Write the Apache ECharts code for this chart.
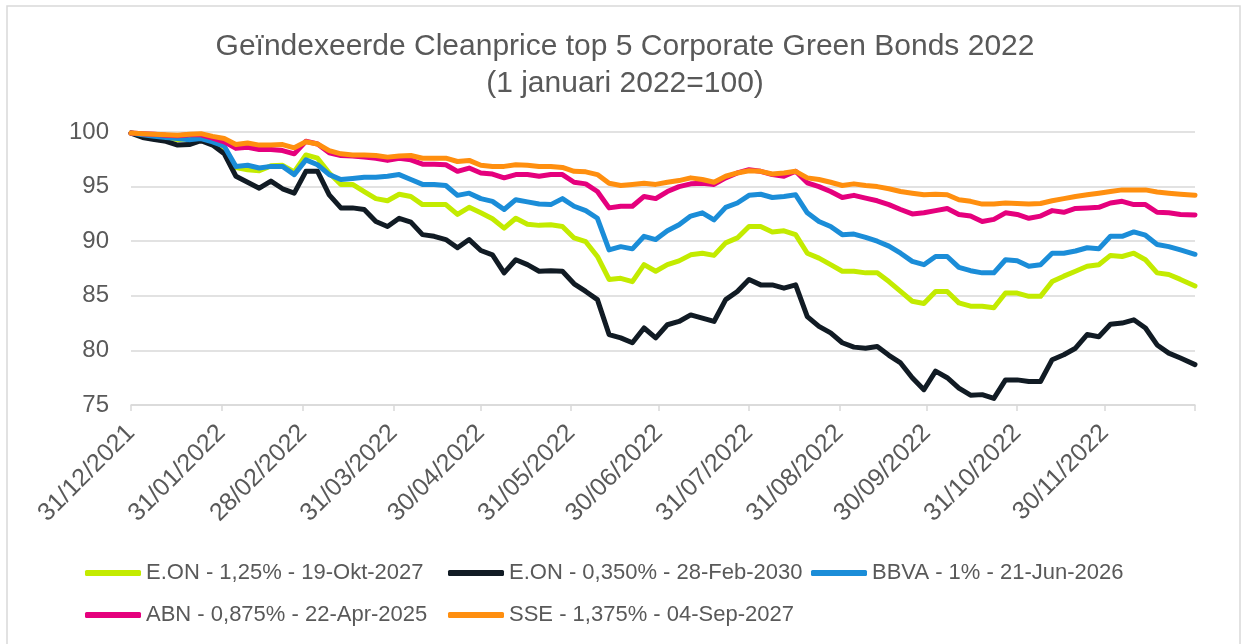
<!DOCTYPE html>
<html>
<head>
<meta charset="utf-8">
<script src="https://cdn.jsdelivr.net/npm/echarts@6/dist/echarts.min.js"></script>
<style>
  html, body { margin: 0; padding: 0; background: #fff; }
  #chart { width: 1241px; height: 644px; }
</style>
</head>
<body>
<div id="chart"></div>
<script>
const dates = [
  '2021-12-31', '2022-01-04', '2022-01-08', '2022-01-12', '2022-01-16', '2022-01-20', '2022-01-24', '2022-01-28',
  '2022-02-01', '2022-02-05', '2022-02-09', '2022-02-13', '2022-02-17', '2022-02-21', '2022-02-25', '2022-03-01',
  '2022-03-05', '2022-03-09', '2022-03-13', '2022-03-17', '2022-03-21', '2022-03-25', '2022-03-29', '2022-04-02',
  '2022-04-06', '2022-04-10', '2022-04-14', '2022-04-18', '2022-04-22', '2022-04-26', '2022-04-30', '2022-05-04',
  '2022-05-08', '2022-05-12', '2022-05-16', '2022-05-20', '2022-05-24', '2022-05-28', '2022-06-01', '2022-06-05',
  '2022-06-09', '2022-06-13', '2022-06-17', '2022-06-21', '2022-06-25', '2022-06-29', '2022-07-03', '2022-07-07',
  '2022-07-11', '2022-07-15', '2022-07-19', '2022-07-23', '2022-07-27', '2022-07-31', '2022-08-04', '2022-08-08',
  '2022-08-12', '2022-08-16', '2022-08-20', '2022-08-24', '2022-08-28', '2022-09-01', '2022-09-05', '2022-09-09',
  '2022-09-13', '2022-09-17', '2022-09-21', '2022-09-25', '2022-09-29', '2022-10-03', '2022-10-07', '2022-10-11',
  '2022-10-15', '2022-10-19', '2022-10-23', '2022-10-27', '2022-10-31', '2022-11-04', '2022-11-08', '2022-11-12',
  '2022-11-16', '2022-11-20', '2022-11-24', '2022-11-28', '2022-12-02', '2022-12-06', '2022-12-10', '2022-12-14',
  '2022-12-18', '2022-12-22', '2022-12-26', '2022-12-31'
];

const eon2027 = [
  99.9, 99.75, 99.6, 99.45, 99.3, 99.4, 99.4, 99.1, 98.4, 96.75, 96.55, 96.45, 96.9, 96.95, 96.35, 97.9, 97.6, 96.25, 95.2, 95.2, 94.55, 93.9, 93.7,
  94.3, 94.1, 93.35, 93.35, 93.35, 92.45, 93.1, 92.6, 92.05, 91.2, 92.1, 91.55, 91.45, 91.5, 91.35, 90.3, 89.95, 88.6, 86.5, 86.6, 86.3, 87.85, 87.25,
  87.85, 88.2, 88.75, 88.9, 88.7, 89.85, 90.3, 91.35, 91.35, 90.85, 90.95, 90.6, 88.9, 88.45, 87.85, 87.25, 87.25, 87.1, 87.1, 86.3, 85.4, 84.5, 84.3,
  85.4, 85.4, 84.35, 84.05, 84.05, 83.9, 85.25, 85.25, 84.95, 84.95, 86.3, 86.8, 87.25, 87.7, 87.85, 88.7, 88.6, 88.9, 88.3, 87.1, 86.95, 86.5, 85.9
];
const eon2030 = [
  99.9, 99.5, 99.3, 99.15, 98.8, 98.85, 99.2, 98.8, 98.0, 95.95, 95.4, 94.85, 95.5, 94.8, 94.4, 96.4, 96.4, 94.25, 93.05, 93.05, 92.9, 91.8, 91.35,
  92.1, 91.75, 90.6, 90.45, 90.15, 89.4, 90.15, 89.15, 88.75, 87.1, 88.3, 87.85, 87.25, 87.3, 87.25, 86.1, 85.4, 84.65, 81.45, 81.15, 80.7, 82.05, 81.15,
  82.35, 82.65, 83.25, 82.95, 82.65, 84.65, 85.4, 86.5, 86.0, 86.0, 85.7, 86.0, 83.1, 82.2, 81.6, 80.7, 80.3, 80.2, 80.35, 79.55, 78.85, 77.5, 76.4,
  78.1, 77.5, 76.55, 75.9, 75.95, 75.6, 77.3, 77.3, 77.15, 77.15, 79.15, 79.6, 80.2, 81.45, 81.25, 82.4, 82.5, 82.8, 82.05, 80.5, 79.75, 79.3, 78.7
];
const bbva2026 = [
  99.9, 99.75, 99.6, 99.5, 99.4, 99.3, 99.4, 99.1, 98.7, 96.85, 96.95, 96.7, 96.85, 96.85, 96.1, 97.45, 97.0, 96.1, 95.65, 95.75, 95.85, 95.85, 95.95,
  96.1, 95.65, 95.2, 95.2, 95.1, 94.2, 94.4, 93.9, 93.65, 92.9, 93.8, 93.6, 93.4, 93.35, 93.9, 93.2, 92.8, 92.1, 89.2, 89.5, 89.3, 90.45, 90.15,
  90.95, 91.5, 92.3, 92.6, 91.95, 93.1, 93.5, 94.2, 94.3, 94.0, 94.1, 94.25, 92.6, 91.8, 91.35, 90.6, 90.65, 90.35, 90.0, 89.55, 88.9, 88.15, 87.85,
  88.6, 88.6, 87.6, 87.3, 87.1, 87.1, 88.3, 88.2, 87.7, 87.85, 88.9, 88.9, 89.1, 89.4, 89.3, 90.45, 90.45, 90.85, 90.55, 89.7, 89.5, 89.2, 88.8
];
const abn2025 = [
  99.9, 99.85, 99.8, 99.7, 99.65, 99.75, 99.75, 99.45, 99.1, 98.5, 98.6, 98.4, 98.4, 98.3, 98.0, 99.15, 98.9, 98.1, 97.85, 97.8, 97.7, 97.6, 97.4,
  97.6, 97.45, 97.05, 97.05, 97.0, 96.4, 96.7, 96.25, 96.15, 95.8, 96.1, 96.1, 95.95, 96.1, 96.1, 95.4, 95.25, 94.55, 93.05, 93.2, 93.2, 94.1, 93.9,
  94.55, 95.0, 95.25, 95.3, 95.2, 95.8, 96.25, 96.55, 96.4, 96.1, 95.95, 96.4, 95.35, 95.0, 94.55, 94.0, 94.2, 93.95, 93.7, 93.35, 92.9, 92.5, 92.6,
  92.8, 93.0, 92.45, 92.3, 91.8, 92.0, 92.6, 92.45, 92.1, 92.3, 92.8, 92.65, 93.0, 93.05, 93.1, 93.5, 93.65, 93.35, 93.35, 92.65, 92.6, 92.45, 92.4
];
const sse2027 = [
  99.9, 99.85, 99.8, 99.75, 99.7, 99.8, 99.85, 99.6, 99.4, 98.85, 99.0, 98.8, 98.8, 98.85, 98.55, 99.1, 98.9, 98.3, 98.0, 97.9, 97.9, 97.85, 97.7,
  97.8, 97.85, 97.6, 97.6, 97.6, 97.3, 97.4, 96.95, 96.85, 96.85, 97.0, 96.95, 96.85, 96.85, 96.75, 96.4, 96.35, 96.1, 95.3, 95.1, 95.2, 95.3, 95.2,
  95.4, 95.55, 95.8, 95.65, 95.4, 95.95, 96.25, 96.45, 96.4, 96.15, 96.25, 96.4, 95.8, 95.65, 95.4, 95.1, 95.25, 95.1, 95.0, 94.8, 94.55, 94.4, 94.25,
  94.3, 94.25, 93.8, 93.65, 93.4, 93.4, 93.5, 93.45, 93.4, 93.45, 93.7, 93.9, 94.1, 94.25, 94.4, 94.55, 94.7, 94.7, 94.7, 94.5, 94.4, 94.3, 94.2
];

const seriesNames = [
  'E.ON - 1,25% - 19-Okt-2027',
  'E.ON - 0,350% - 28-Feb-2030',
  'BBVA - 1% - 21-Jun-2026',
  'ABN - 0,875% - 22-Apr-2025',
  'SSE - 1,375% - 04-Sep-2027'
];
const seriesValues = [eon2027, eon2030, bbva2026, abn2025, sse2027];
const seriesColors = ['#c3eb00', '#111b24', '#1b8dd8', '#e5007d', '#ff8f0f'];

// maandeinden op de x-as
const labelDates = [
  '2021-12-31', '2022-01-31', '2022-02-28', '2022-03-31', '2022-04-30', '2022-05-31',
  '2022-06-30', '2022-07-31', '2022-08-31', '2022-09-30', '2022-10-31', '2022-11-30'
];
const tickDates = labelDates.concat(['2022-12-31']);
const yTicks = [75, 80, 85, 90, 95, 100];

const font = "'Liberation Sans', Arial, sans-serif";
const grey = '#595959';
const toTime = (s) => echarts.number.parseDate(s).getTime();
const pad = (n) => (n < 10 ? '0' : '') + n;

const option = {
  animation: false,
  backgroundColor: '#fff',
  title: {
    text: 'Geïndexeerde Cleanprice top 5 Corporate Green Bonds 2022\n(1 januari 2022=100)',
    left: 625,
    top: 28,
    textAlign: 'center',
    padding: 0,
    textStyle: {
      fontFamily: font,
      fontSize: 30,
      fontWeight: 'normal',
      color: grey,
      lineHeight: 37
    }
  },
  graphic: [{
    type: 'rect',
    shape: { x: 7, y: 6, width: 1233, height: 660 },
    style: { fill: 'none', stroke: '#d9d9d9', lineWidth: 1.5 },
    silent: true
  }],
  legend: {
    left: 85,
    top: 555,
    width: 1110,
    padding: 0,
    icon: 'roundRect',
    itemWidth: 56,
    itemHeight: 6,
    itemGap: 6,
    data: seriesNames,
    textStyle: {
      fontFamily: font,
      fontSize: 22,
      color: grey,
      width: 296,
      lineHeight: 36
    }
  },
  grid: {
    left: 131,
    right: 46,
    top: 132,
    bottom: 239,
    containLabel: false
  },
  xAxis: {
    type: 'value',
    min: toTime('2021-12-31'),
    max: toTime('2022-12-31'),
    axisLine: { show: true, lineStyle: { color: '#d9d9d9', width: 1.5 } },
    axisTick: {
      show: true,
      length: 6,
      lineStyle: { color: '#d9d9d9', width: 1.5 },
      customValues: tickDates.map(toTime)
    },
    splitLine: { show: false },
    axisLabel: {
      customValues: labelDates.map(toTime),
      rotate: 45,
      margin: 24,
      fontFamily: font,
      fontSize: 25,
      color: grey,
      formatter: function (v) {
        const d = new Date(v);
        return pad(d.getDate()) + '/' + pad(d.getMonth() + 1) + '/' + d.getFullYear();
      }
    }
  },
  yAxis: {
    type: 'value',
    min: yTicks[0],
    max: yTicks[yTicks.length - 1],
    interval: 5,
    axisLine: { show: false },
    axisTick: { show: false },
    splitLine: { lineStyle: { color: '#d9d9d9', width: 1.5 } },
    axisLabel: {
      margin: 22,
      fontFamily: font,
      fontSize: 24,
      color: grey
    }
  },
  series: seriesNames.map((name, i) => ({
    name: name,
    type: 'line',
    showSymbol: false,
    symbol: 'none',
    color: seriesColors[i],
    lineStyle: { width: 5, cap: 'round', join: 'round' },
    data: dates.map((d, j) => [toTime(d), seriesValues[i][j]])
  }))
};

const myChart = echarts.init(document.getElementById('chart'));
option && myChart.setOption(option);
</script>
</body>
</html>
